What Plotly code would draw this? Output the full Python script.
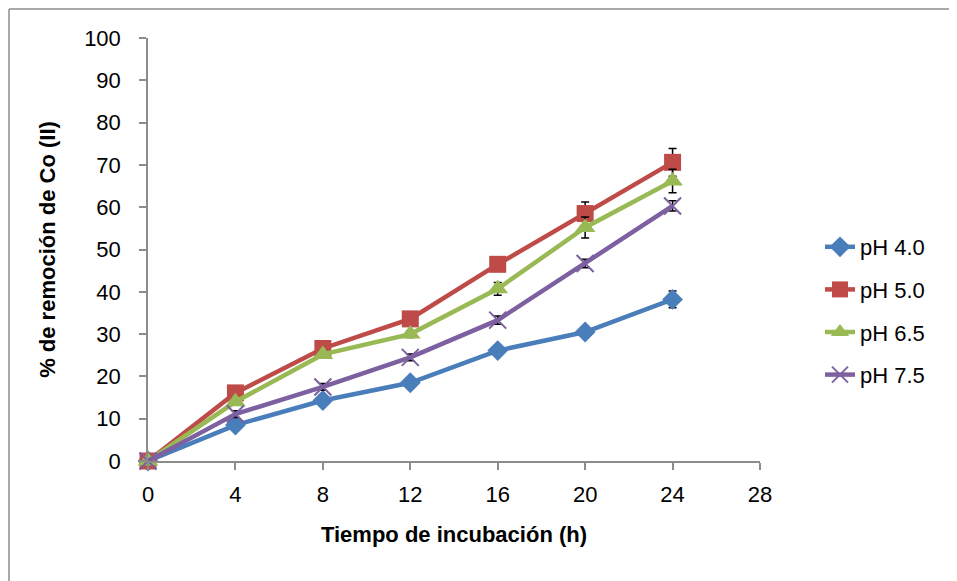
import plotly.graph_objects as go

# Data
tiempo = [0, 4, 8, 12, 16, 20, 24]

series_names = ["pH 4.0", "pH 5.0", "pH 6.5", "pH 7.5"]

ph40 = [0, 8.5, 14.3, 18.5, 26.1, 30.5, 38.2]
ph50 = [0, 16.1, 26.6, 33.6, 46.5, 58.5, 70.6]
ph65 = [0, 14.0, 25.2, 30.0, 40.7, 55.2, 66.2]
ph75 = [0, 11.1, 17.5, 24.5, 33.3, 46.7, 60.3]

err40 = [0.3, 0.8, 0.8, 0.8, 0.8, 1.2, 2.0]
err50 = [0.3, 0.6, 0.8, 0.8, 0.8, 2.7, 3.3]
err65 = [0.3, 0.8, 0.8, 0.8, 1.5, 2.5, 2.8]
err75 = [0.3, 0.8, 0.8, 0.8, 1.0, 1.0, 1.2]

colors = ["#4A7EBB", "#BE4B48", "#98B954", "#7D60A0"]
symbols = ["diamond", "square", "triangle-up", "x-thin-open"]
sizes = [16, 17, 18, 17]

values = [ph40, ph50, ph65, ph75]
errors = [err40, err50, err65, err75]

font_family = "Liberation Sans, Arial, sans-serif"

fig = go.Figure()

for i, (name, y, e, c, s, sz) in enumerate(zip(series_names, values, errors, colors, symbols, sizes)):
    marker = dict(symbol=s, size=sz, color=c)
    if s == "x-thin-open":
        marker["line"] = dict(color=c, width=2)
    fig.add_trace(go.Scatter(
        x=tiempo, y=y,
        mode="lines+markers",
        name=name,
        legendgroup="g%d" % i,
        line=dict(color=c, width=4.5),
        marker=marker,
        error_y=dict(type="data", array=e, visible=True,
                     color="black", thickness=1.5, width=4),
    ))

# plot area is 612 x 423 px; page body adds an 8 px offset
L, T, PW, PH = 140, 30, 612, 423
W, H = 949, 573

# outer chart border: only the left and top edges show in the picture
bx0 = (1 - L) / PW
by1 = (T + PH - 1) / PH
fig.add_shape(type="line", xref="paper", yref="paper",
              x0=bx0, x1=bx0, y0=by1, y1=(T + PH - H) / PH,
              line=dict(color="#8C8C8C", width=1.5), layer="below")
fig.add_shape(type="line", xref="paper", yref="paper",
              x0=bx0, x1=(W - L) / PW, y0=by1, y1=by1,
              line=dict(color="#8C8C8C", width=1.5), layer="below")

fig.update_layout(
    width=W, height=H,
    margin=dict(l=L, r=W - L - PW, t=T, b=H - T - PH),
    plot_bgcolor="white",
    paper_bgcolor="white",
    font=dict(family=font_family, size=22, color="black"),
    xaxis=dict(
        range=[0, 28], tick0=0, dtick=4,
        showgrid=False, zeroline=False,
        showline=True, linecolor="#8C8C8C", linewidth=1.5,
        ticks="outside", ticklen=7, tickcolor="#8C8C8C", tickwidth=1.5,
        ticklabelstandoff=6,
        title=dict(text="<b>Tiempo de incubación (h)</b>",
                   font=dict(size=22), standoff=20),
    ),
    yaxis=dict(
        range=[0, 100], tick0=0, dtick=10,
        showgrid=False, zeroline=False,
        showline=True, linecolor="#8C8C8C", linewidth=1.5,
        ticks="outside", ticklen=7, tickcolor="#8C8C8C", tickwidth=1.5,
        ticklabelstandoff=14,
        title=dict(text="<b>% de remoción de Co (II)</b>",
                   font=dict(size=22), standoff=22),
    ),
    legend=dict(
        x=(812 - L) / PW, y=(T + PH - 303) / PH,
        xanchor="left", yanchor="middle",
        font=dict(size=22), tracegroupgap=11,
        bgcolor="rgba(0,0,0,0)",
    ),
)

fig.update_traces(cliponaxis=False)

fig.write_html("out.html")
